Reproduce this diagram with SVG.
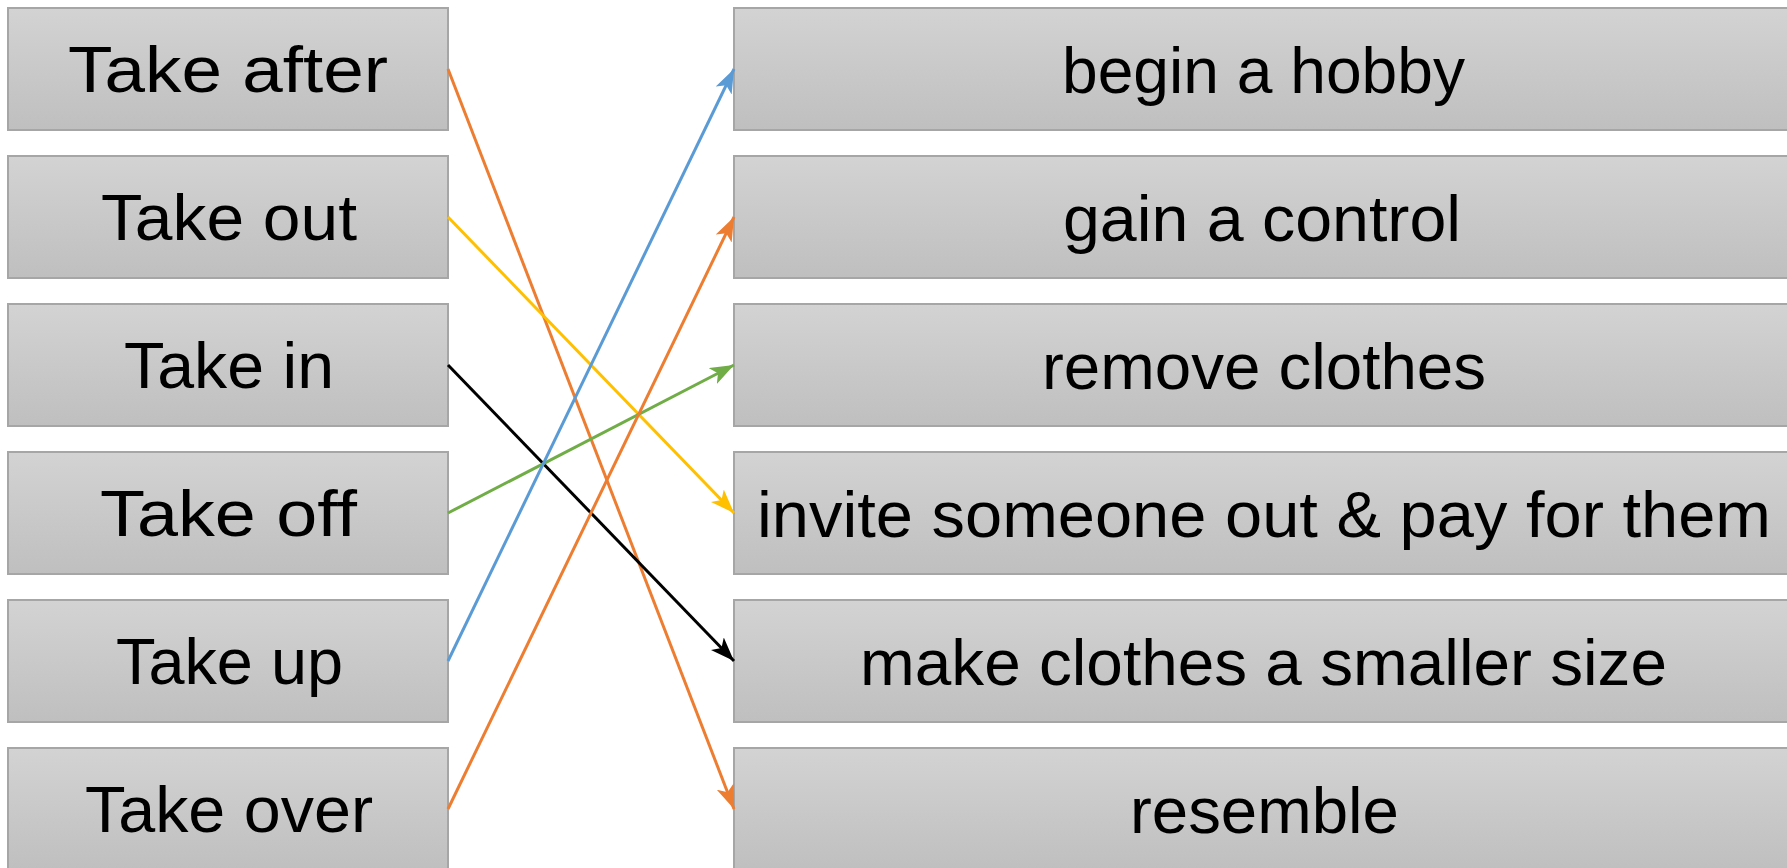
<svg xmlns="http://www.w3.org/2000/svg" width="1787" height="868" viewBox="0 0 1787 868">
<style>
.box{fill:url(#g);stroke:#a6a6a6;stroke-width:2}
.t{font-family:"Liberation Sans",Arial,sans-serif;font-size:64px;fill:#000}
.c{fill:none;stroke-width:3}
</style>
<defs>
<linearGradient id="g" x1="0" y1="0" x2="0" y2="1">
<stop offset="0" stop-color="#d3d3d3"/>
<stop offset="1" stop-color="#bfbfbf"/>
</linearGradient>
<marker id="mo" viewBox="0 0 8 6" refX="8" refY="3" markerWidth="8" markerHeight="6" markerUnits="strokeWidth" orient="auto"><path d="M0,0 L8,3 L0,6 L2,3 z" fill="#ED7D31"/></marker>
<marker id="my" viewBox="0 0 8 6" refX="8" refY="3" markerWidth="8" markerHeight="6" markerUnits="strokeWidth" orient="auto"><path d="M0,0 L8,3 L0,6 L2,3 z" fill="#FFC000"/></marker>
<marker id="mk" viewBox="0 0 8 6" refX="8" refY="3" markerWidth="8" markerHeight="6" markerUnits="strokeWidth" orient="auto"><path d="M0,0 L8,3 L0,6 L2,3 z" fill="#000000"/></marker>
<marker id="mg" viewBox="0 0 8 6" refX="8" refY="3" markerWidth="8" markerHeight="6" markerUnits="strokeWidth" orient="auto"><path d="M0,0 L8,3 L0,6 L2,3 z" fill="#70AD47"/></marker>
<marker id="mb" viewBox="0 0 8 6" refX="8" refY="3" markerWidth="8" markerHeight="6" markerUnits="strokeWidth" orient="auto"><path d="M0,0 L8,3 L0,6 L2,3 z" fill="#5B9BD5"/></marker>
</defs>
<rect width="1787" height="868" fill="#ffffff"/>
<g id="take-after"><rect class="box" x="8" y="8" width="440" height="122"/><text class="t" x="68" y="92" textLength="320" lengthAdjust="spacingAndGlyphs">Take after</text></g>
<g id="take-out"><rect class="box" x="8" y="156" width="440" height="122"/><text class="t" x="101" y="240" textLength="256" lengthAdjust="spacingAndGlyphs">Take out</text></g>
<g id="take-in"><rect class="box" x="8" y="304" width="440" height="122"/><text class="t" x="124" y="388" textLength="210" lengthAdjust="spacingAndGlyphs">Take in</text></g>
<g id="take-off"><rect class="box" x="8" y="452" width="440" height="122"/><text class="t" x="100" y="536" textLength="257" lengthAdjust="spacingAndGlyphs">Take off</text></g>
<g id="take-up"><rect class="box" x="8" y="600" width="440" height="122"/><text class="t" x="116" y="684" textLength="227" lengthAdjust="spacingAndGlyphs">Take up</text></g>
<g id="take-over"><rect class="box" x="8" y="748" width="440" height="122"/><text class="t" x="85" y="832" textLength="288" lengthAdjust="spacingAndGlyphs">Take over</text></g>
<g id="begin-hobby"><rect class="box" x="734" y="8" width="1060" height="122"/><text class="t" x="1062" y="93" textLength="403" lengthAdjust="spacingAndGlyphs">begin a hobby</text></g>
<g id="gain-control"><rect class="box" x="734" y="156" width="1060" height="122"/><text class="t" x="1063" y="241" textLength="398" lengthAdjust="spacingAndGlyphs">gain a control</text></g>
<g id="remove-clothes"><rect class="box" x="734" y="304" width="1060" height="122"/><text class="t" x="1042" y="389" textLength="444" lengthAdjust="spacingAndGlyphs">remove clothes</text></g>
<g id="invite"><rect class="box" x="734" y="452" width="1060" height="122"/><text class="t" x="757" y="537" textLength="1014" lengthAdjust="spacingAndGlyphs">invite someone out &amp; pay for them</text></g>
<g id="make-smaller"><rect class="box" x="734" y="600" width="1060" height="122"/><text class="t" x="860" y="685" textLength="807" lengthAdjust="spacingAndGlyphs">make clothes a smaller size</text></g>
<g id="resemble"><rect class="box" x="734" y="748" width="1060" height="122"/><text class="t" x="1130" y="833" textLength="269" lengthAdjust="spacingAndGlyphs">resemble</text></g>
<g id="connectors">
<line class="c" x1="448" y1="69" x2="734" y2="809" stroke="#ED7D31" marker-end="url(#mo)"/>
<line class="c" x1="448" y1="217" x2="734" y2="513" stroke="#FFC000" marker-end="url(#my)"/>
<line class="c" x1="448" y1="365" x2="734" y2="661" stroke="#000000" marker-end="url(#mk)"/>
<line class="c" x1="448" y1="513" x2="734" y2="365" stroke="#70AD47" marker-end="url(#mg)"/>
<line class="c" x1="448" y1="661" x2="734" y2="69" stroke="#5B9BD5" marker-end="url(#mb)"/>
<line class="c" x1="448" y1="809" x2="734" y2="217" stroke="#ED7D31" marker-end="url(#mo)"/>
</g>
</svg>
